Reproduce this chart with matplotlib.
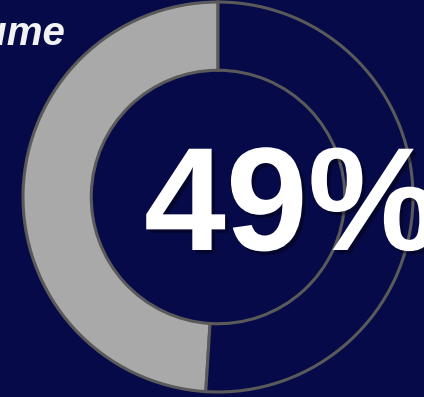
import matplotlib.pyplot as plt
import matplotlib.patheffects as pe

# --- data ---
labels = ['Share', 'Rest']
values = [49, 51]
pct_label = '49%'
title = 'Volume'

bg = '#070a48'
W, H = 424, 397

fig = plt.figure(figsize=(W / 100, H / 100), dpi=100)
fig.patch.set_facecolor(bg)

# donut: centre ~(218, 197) px, outer radius ~195 px
ax = fig.add_axes([23 / W, 5 / H, 390 / W, 390 / H])
ax.set_facecolor(bg)
ax.pie(values, colors=['#a9a9a9', bg], startangle=90, counterclock=True,
       radius=1.0,
       wedgeprops=dict(width=0.35, edgecolor='#5a5a5a', linewidth=2.2))
ax.set_xlim(-1, 1)
ax.set_ylim(-1, 1)
ax.set_aspect('equal')
ax.axis('off')

# title (cut off on the left in the reference)
fig.text(66 / W, 1 - 45 / H, title, ha='right', va='baseline',
         fontsize=29, fontweight='bold', fontstyle='italic',
         color='#f2f2f2', family='Liberation Sans')

# big percentage
shadow = [pe.withSimplePatchShadow(offset=(2.5, -2.5), shadow_rgbFace='black', alpha=0.35)]
fig.text(144 / W, 1 - 250 / H, pct_label, ha='left', va='baseline',
         fontsize=106, fontweight='bold', color='white',
         family='Liberation Sans', path_effects=shadow)

fig.savefig('out.png', dpi=100, facecolor=bg)
